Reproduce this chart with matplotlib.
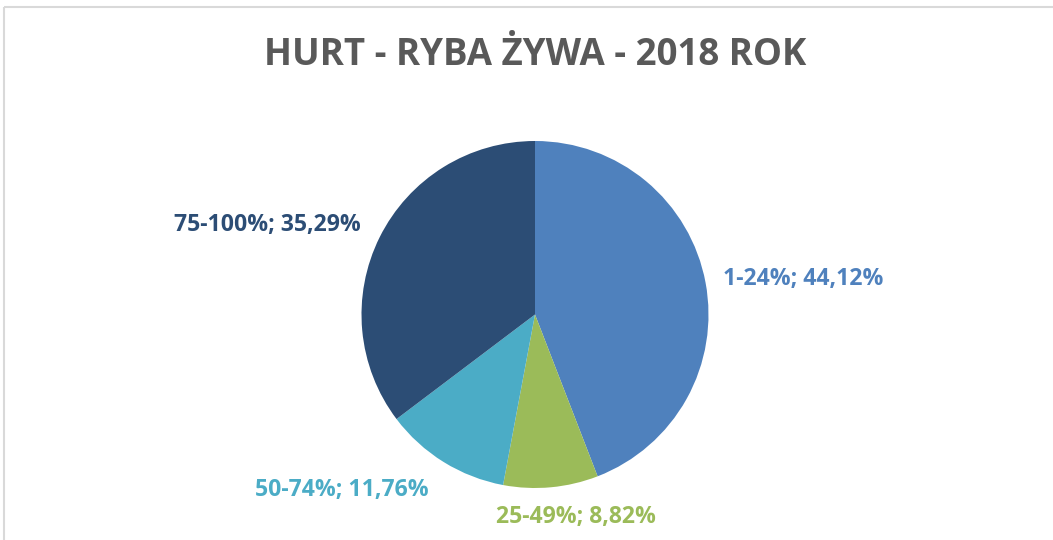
import matplotlib.pyplot as plt
from matplotlib.patches import Rectangle

plt.rcParams['font.family'] = ['Open Sans', 'DejaVu Sans']

categories = ['1-24%', '25-49%', '50-74%', '75-100%']
shares = [44.12, 8.82, 11.76, 35.29]
colors = ['#4F81BD', '#9BBB59', '#4BACC6', '#2C4D75']
title = 'HURT - RYBA ŻYWA - 2018 ROK'

fig = plt.figure(figsize=(10.53, 5.4), dpi=100)
ax = fig.add_axes([0, 0, 1, 1])
ax.set_xlim(0, 1053)
ax.set_ylim(540, 0)
ax.axis('off')

# chart frame (cut off at right and bottom)
ax.add_patch(Rectangle((4, 7), 1100, 600, fill=False, edgecolor='#D9D9D9', lw=1.5))

# pie in its own equal-aspect axes
r = 173.5
pax = fig.add_axes([(535 - r) / 1053, (540 - 314.5 - r) / 540, 2 * r / 1053, 2 * r / 540])
pax.pie(shares, colors=colors, startangle=90, counterclock=False,
        wedgeprops=dict(linewidth=0))
pax.set_xlim(-1, 1)
pax.set_ylim(-1, 1)
pax.axis('off')

ax.text(535.5, 55, title, ha='center', va='center', fontsize=26.4,
        fontweight='bold', color='#595959')

label_pos = [(803, 279), (576, 517), (342, 490), (267.5, 225)]
for cat, val, col, (x, y) in zip(categories, shares, colors, label_pos):
    txt = f'{cat}; {val:.2f}%'.replace('.', ',')
    ax.text(x, y, txt, ha='center', va='center', fontsize=16.6,
            fontweight='bold', color=col)

fig.savefig('out.png', dpi=100)
